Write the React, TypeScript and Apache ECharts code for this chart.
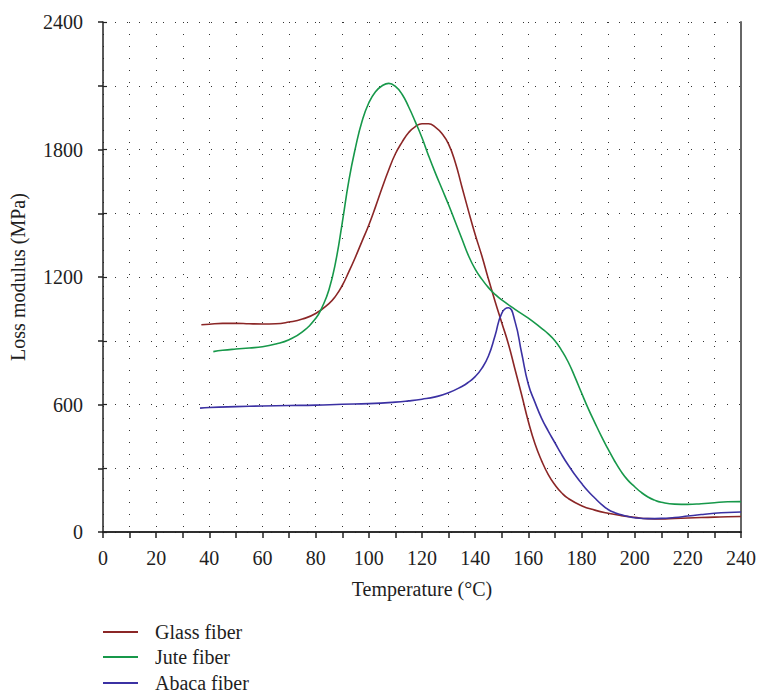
import React, { useEffect, useRef } from "react";
import * as echarts from "echarts";

const glassT = [37, 40, 45, 50, 55, 60, 65, 70, 75, 80, 85, 87.5, 90, 92.5, 95, 97.5, 100, 102.5, 105, 107.5, 110, 112.5, 115, 117.5, 120, 122.5, 125, 127.5, 130, 132.5, 135, 137.5, 140, 142.5, 145, 147.5, 150, 152.5, 155, 157.5, 160, 162.5, 165, 167.5, 170, 172.5, 175, 180, 185, 190, 195, 200, 205, 210, 215, 220, 225, 230, 235, 240];
const glassV = [975, 978, 982, 982, 980, 979, 980, 988, 1002, 1028, 1075, 1110, 1160, 1225, 1295, 1370, 1445, 1530, 1620, 1705, 1780, 1835, 1880, 1908, 1921, 1921, 1905, 1875, 1825, 1740, 1625, 1510, 1400, 1300, 1190, 1085, 985, 885, 765, 645, 520, 415, 335, 270, 222, 185, 158, 124, 103, 88, 77, 69, 63, 62, 64, 66, 68, 70, 72, 73];

const juteT = [41.5, 45, 50, 55, 60, 65, 70, 75, 80, 82.5, 85, 87.5, 90, 92.5, 95, 97.5, 100, 102.5, 105, 107.5, 110, 112.5, 115, 117.5, 120, 122.5, 125, 127.5, 130, 132.5, 135, 137.5, 140, 142.5, 145, 147.5, 150, 155, 160, 165, 167.5, 170, 172.5, 175, 177.5, 180, 182.5, 185, 187.5, 190, 192.5, 195, 197.5, 200, 202.5, 205, 207.5, 210, 215, 220, 225, 230, 235, 240];
const juteV = [849, 855, 861, 866, 872, 885, 905, 942, 1005, 1060, 1140, 1270, 1455, 1655, 1810, 1935, 2020, 2072, 2100, 2111, 2097, 2060, 2000, 1930, 1855, 1770, 1690, 1615, 1540, 1460, 1380, 1300, 1237, 1190, 1150, 1118, 1092, 1048, 1006, 958, 932, 900, 855, 800, 730, 655, 582, 515, 450, 390, 333, 283, 243, 213, 186, 165, 150, 140, 131, 130, 133, 138, 142, 143];

const abacaT = [36.5, 40, 50, 60, 70, 80, 90, 100, 110, 115, 120, 125, 130, 135, 137.5, 140, 142.5, 145, 147.5, 150, 152.5, 155, 157.5, 160, 162.5, 165, 167.5, 170, 172.5, 175, 177.5, 180, 182.5, 185, 187.5, 190, 192.5, 195, 197.5, 200, 205, 210, 215, 220, 225, 230, 235, 240];
const abacaV = [583, 586, 590, 593, 595, 597, 601, 604, 611, 617, 625, 636, 655, 685, 705, 731, 770, 828, 925, 1029, 1055, 990, 841, 695, 610, 535, 475, 420, 365, 315, 270, 229, 192, 160, 130, 106, 91, 81, 73, 67, 63, 64, 68, 75, 82, 88, 92, 94];

const seriesNames = ["Glass fiber", "Jute fiber", "Abaca fiber"];
const seriesColors = ["#8b2626", "#17984a", "#3b31a3"];

const FONT = "Liberation Serif";
const TXT = "#1e1e1e";

function zip(t: number[], v: number[]) {
  return t.map((x, i) => [x, v[i]]);
}

export default function App() {
  const ref = useRef<HTMLDivElement>(null);
  useEffect(() => {
    document.body.style.margin = "0";
    if (!ref.current) return;
    const chart = echarts.init(ref.current, null, { renderer: "svg" });
    const dotted = { color: "#333", width: 1, type: [1, 11] as any };
    const datas = [zip(glassT, glassV), zip(juteT, juteV), zip(abacaT, abacaV)];
    const legendTops = [617, 642, 668];
    chart.setOption({
      animation: false,
      textStyle: { fontFamily: FONT },
      grid: { left: 103, right: 21, top: 22, bottom: 165, containLabel: false },
      legend: seriesNames.map((n, i) => ({
        orient: "vertical",
        left: 98,
        top: legendTops[i],
        itemWidth: 35,
        itemHeight: 2,
        icon: "rect",
        selectedMode: false,
        textStyle: { fontFamily: FONT, fontSize: 20, color: TXT, padding: [0, 0, 0, 12] },
        data: [n],
      })),
      xAxis: [
        {
          type: "value",
          min: 0,
          max: 240,
          interval: 10,
          position: "bottom",
          name: "Temperature (°C)",
          nameLocation: "middle",
          nameGap: 47,
          nameTextStyle: { fontFamily: FONT, fontSize: 20, color: TXT },
          axisLine: { lineStyle: { color: "#222", width: 1.5 } },
          axisTick: { show: true, inside: false, length: 6, lineStyle: { color: "#222", width: 1.5 } },
          axisLabel: {
            fontFamily: FONT,
            fontSize: 20,
            color: TXT,
            margin: 16,
            formatter: (v: number) => (v % 20 === 0 ? String(v) : ""),
          },
          splitLine: { show: true, lineStyle: dotted },
        },
        {
          type: "value",
          min: 0,
          max: 240,
          position: "top",
          axisLine: { show: true, lineStyle: { color: "#222", width: 1.5 } },
          axisTick: { show: false },
          axisLabel: { show: false },
          splitLine: { show: false },
        },
      ],
      yAxis: [
        {
          type: "value",
          min: 0,
          max: 2400,
          interval: 300,
          position: "left",
          name: "Loss modulus (MPa)",
          nameLocation: "middle",
          nameGap: 75,
          nameTextStyle: { fontFamily: FONT, fontSize: 20, color: TXT },
          axisLine: { show: true, lineStyle: { color: "#222", width: 1.5 } },
          axisTick: { show: true, inside: false, length: 5, lineStyle: { color: "#222", width: 1.5 } },
          axisLabel: {
            fontFamily: FONT,
            fontSize: 20,
            color: TXT,
            margin: 20,
            formatter: (v: number) => (v % 600 === 0 ? String(v) : ""),
          },
          splitLine: { show: true, lineStyle: dotted },
        },
        {
          type: "value",
          min: 0,
          max: 2400,
          interval: 300,
          position: "left",
          axisLine: { show: false },
          axisTick: { show: true, inside: true, length: 4, lineStyle: { color: "#222", width: 1.2 } },
          axisLabel: { show: false },
          splitLine: { show: false },
        },
        {
          type: "value",
          min: 0,
          max: 2400,
          position: "right",
          axisLine: { show: true, lineStyle: { color: "#666", width: 2 } },
          axisTick: { show: false },
          axisLabel: { show: false },
          splitLine: { show: false },
        },
      ],
      series: seriesNames.map((name, i) => ({
        name,
        type: "line",
        data: datas[i],
        smooth: 0.5,
        symbol: "none",
        showSymbol: false,
        xAxisIndex: 0,
        yAxisIndex: 0,
        lineStyle: { color: seriesColors[i], width: 1.6 },
        itemStyle: { color: seriesColors[i] },
      })),
    });
    return () => chart.dispose();
  }, []);
  return <div ref={ref} style={{ width: 762, height: 697 }} />;
}
